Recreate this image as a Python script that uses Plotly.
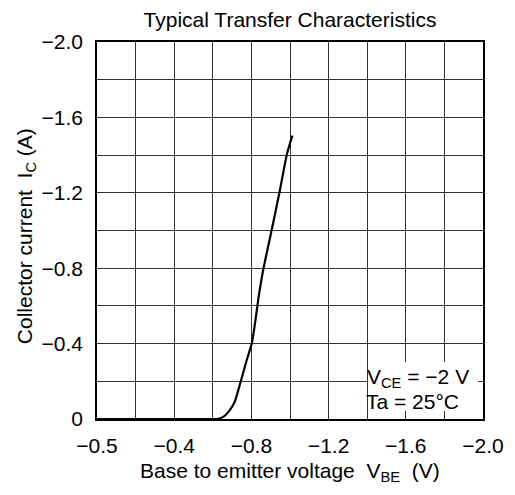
import plotly.graph_objects as go

# Curve data
vbe = [0.0, -0.2, -0.4, -0.6, -0.62, -0.654, -0.689, -0.715, -0.741, -0.776,
       -0.802, -0.819, -0.836, -0.860, -0.905, -0.945, -0.983, -1.012]
ic = [0.0, 0.0, 0.0, 0.0, 0.0, -0.011, -0.048, -0.095, -0.186, -0.313,
      -0.402, -0.509, -0.637, -0.785, -1.003, -1.200, -1.401, -1.503]

tick_vals = [0.0, -0.4, -0.8, -1.2, -1.6, -2.0]
x_ticktext = ["\u22120.5", "\u22120.4", "\u22120.8", "\u22121.2", "\u22121.6", "\u22122.0"]
y_ticktext = ["0", "\u22120.4", "\u22120.8", "\u22121.2", "\u22121.6", "\u22122.0"]
grid_step = 0.2

FONT = "Liberation Sans, Arial, sans-serif"
FS = 21
fig = go.Figure()
fig.add_trace(go.Scatter(x=vbe, y=ic, mode="lines",
                         line=dict(color="black", width=2.2, shape="spline", smoothing=0.5),
                         showlegend=False, hoverinfo="skip"))

axis_common = dict(
    showline=True, mirror=True, linecolor="black", linewidth=1.5,
    showgrid=True, gridcolor="#333333", gridwidth=1,
    minor=dict(dtick=grid_step, tick0=0, showgrid=True, gridcolor="#333333", gridwidth=1, ticks=""),
    zeroline=False, ticks="", tickvals=tick_vals, automargin=False,
    tickfont=dict(family=FONT, size=FS, color="black"),
)
fig.update_xaxes(range=[0, -2.0], ticktext=x_ticktext, ticklabelstandoff=7, **axis_common)
fig.update_yaxes(range=[0, -2.0], ticktext=y_ticktext, ticklabelstandoff=8, **axis_common)

# White box for condition text
fig.add_shape(type="rect", xref="x", yref="y", x0=-1.405, x1=-1.975, y0=-0.043, y1=-0.302,
              fillcolor="white", line=dict(width=0), layer="above")

fig.add_annotation(x=-1.40, y=-0.215, xref="x", yref="y", xanchor="left", yanchor="middle",
                   xshift=-2, text="V<sub>CE</sub> = \u22122 V", showarrow=False,
                   font=dict(family=FONT, size=FS, color="black"))
fig.add_annotation(x=-1.40, y=-0.095, xref="x", yref="y", xanchor="left", yanchor="middle",
                   xshift=-3, text="Ta = 25\u00b0C", showarrow=False,
                   font=dict(family=FONT, size=FS, color="black"))

# Axis titles
fig.add_annotation(x=0.5, y=0, xref="paper", yref="paper", xanchor="center", yanchor="middle",
                   yshift=-53, text="Base to emitter voltage  V<sub>BE</sub>  (V)", showarrow=False,
                   font=dict(family=FONT, size=FS, color="black"))
fig.add_annotation(x=0, y=0.485, xref="paper", yref="paper", xanchor="center", yanchor="middle",
                   xshift=-71, textangle=-90, text="Collector current  I<sub>C</sub> (A)", showarrow=False,
                   font=dict(family=FONT, size=FS, color="black"))

# page body has an 8 px margin, so the figure is offset by 8 px
fig.update_layout(
    width=507, height=487,
    margin=dict(l=89, r=32, t=34, b=76),
    paper_bgcolor="white", plot_bgcolor="white",
    title=dict(text="Typical Transfer Characteristics", x=0.5, xref="paper", xanchor="center",
               y=1 - 12 / 487, yanchor="middle",
               font=dict(family=FONT, size=FS, color="black")),
)

fig.write_html("out.html")
